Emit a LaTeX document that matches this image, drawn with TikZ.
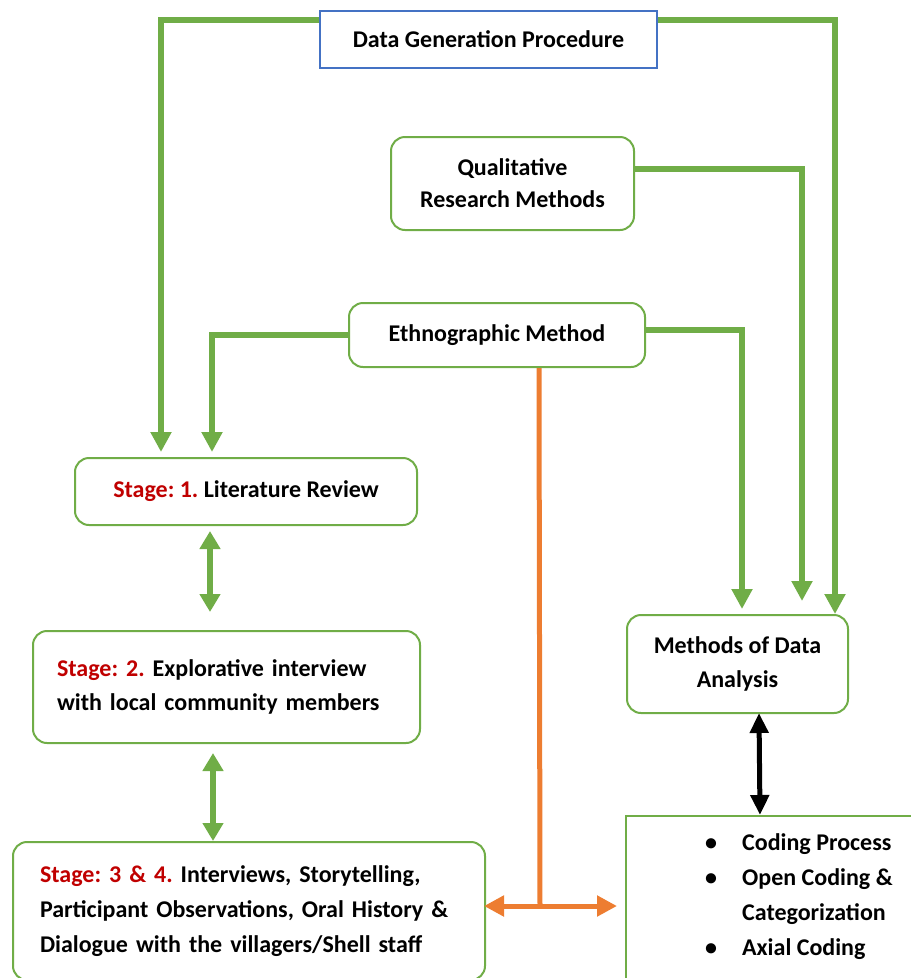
\documentclass[tikz,border=0pt]{standalone}
\usepackage{fontspec}
\setmainfont{Carlito}
\usetikzlibrary{arrows.meta,calc}
\definecolor{gr}{HTML}{70AD47}
\definecolor{bl}{HTML}{4472C4}
\definecolor{orng}{HTML}{ED7D31}
\definecolor{stred}{HTML}{C00000}
\frenchspacing
\begin{document}
\begin{tikzpicture}[x=1pt,y=-1pt,
  txt/.style={font=\bfseries\fontsize{24}{34}\selectfont},
  box/.style={txt, draw=gr, line width=2pt, rounded corners=14pt, fill=white, inner sep=0pt},
  conn/.style={draw=gr, line width=6pt, -{Triangle[width=20pt,length=20pt]}},
  dconn/.style={draw=gr, line width=6pt, {Triangle[width=20pt,length=18pt]}-{Triangle[width=20pt,length=18pt]}},
  bconn/.style={draw=black, line width=5pt, {Triangle[width=18pt,length=20pt]}-{Triangle[width=18pt,length=20pt]}},
  oline/.style={draw=orng, line width=5pt},
  oconn/.style={draw=orng, line width=5pt, {Triangle[width=20pt,length=20pt]}-{Triangle[width=20pt,length=20pt]}},
  stg/.style={text=stred}
]
\useasboundingbox (0,0) rectangle (911,978);

% nodes
\node[txt, draw=bl, line width=2pt, fill=white, minimum width=337pt, minimum height=57pt, inner sep=0pt] (dg) at (488.5,39.5) {Data Generation Procedure};
\node[box, minimum width=243pt, minimum height=93pt, align=center, font=\bfseries\fontsize{24}{32}\selectfont] (qual) at (512.5,183.5) {Qualitative\\Research Methods};
\node[box, minimum width=296pt, minimum height=64pt] (eth) at (497,335) {Ethnographic Method};
\node[box, minimum width=342pt, minimum height=67pt] (s1) at (246,491.5) {\textcolor{stred}{Stage: 1.} Literature Review};
\node[box, minimum width=387pt, minimum height=112pt, text width=339pt, inner xsep=24pt, align=left] (s2) at (226.5,687) {\textcolor{stred}{Stage: 2.} Explorative interview\\with local community members};
\node[box, minimum width=472pt, minimum height=138pt, text width=418pt, inner xsep=27pt, align=left, font=\bfseries\fontsize{24}{35}\selectfont] (s3) at (249,911) {\textcolor{stred}{Stage: 3 \& 4.} Interviews, Storytelling,\\Participant Observations, Oral History \&\\Dialogue with the villagers/Shell staff};
\node[box, minimum width=221pt, minimum height=98pt, align=center] (ma) at (737.5,664) {Methods of Data\\Analysis};
\node[draw=gr, line width=2pt, fill=white, minimum width=310pt, minimum height=180pt, anchor=north west, inner sep=0pt] (cb) at (625,815) {};
\node[font=\bfseries\fontsize{24}{35}\selectfont, anchor=north west, inner sep=0pt] (cl) at (705,826) {\begin{tabular}{@{}p{37pt}@{}l@{}}
\textbullet & Coding Process\\
\textbullet & Open Coding \&\\
 & Categorization\\
\textbullet & Axial Coding
\end{tabular}};

% coordinates
\coordinate (oj) at (540,906);

% connectors
\draw[conn] ($(dg.north west)+(0,10)$) -| ($(s1.north west)+(87,-5)$);
\draw[conn] ($(dg.north east)+(0,10)$) -| ($(ma.north east)+(-14,0)$);
\draw[conn] ($(qual.east)+(0,-15)$) -| ($(ma.north east)+(-47,-13)$);
\draw[conn] (eth.west) -| ($(s1.north west)+(138,-5)$);
\draw[conn] ($(eth.east)+(0,-5)$) -| ($(ma.north west)+(116,-5)$);
\draw[dconn] ($(s1.south west)+(136,5)$) -- ($(s2.north west)+(178,-18)$);
\draw[dconn] ($(s2.south west)+(181,9)$) -- ($(s3.north west)+(201,0)$);
\draw[bconn] ($(ma.south west)+(133,-1)$) -- ($(cb.north west)+(135,0)$);
\draw[oline] ($(eth.south west)+(191,0)$) -- (oj);
\draw[oconn] ($(s3.east)+(-2,-5)$) -- ($(cb.west |- oj)+(-8,0)$);
\end{tikzpicture}
\end{document}
